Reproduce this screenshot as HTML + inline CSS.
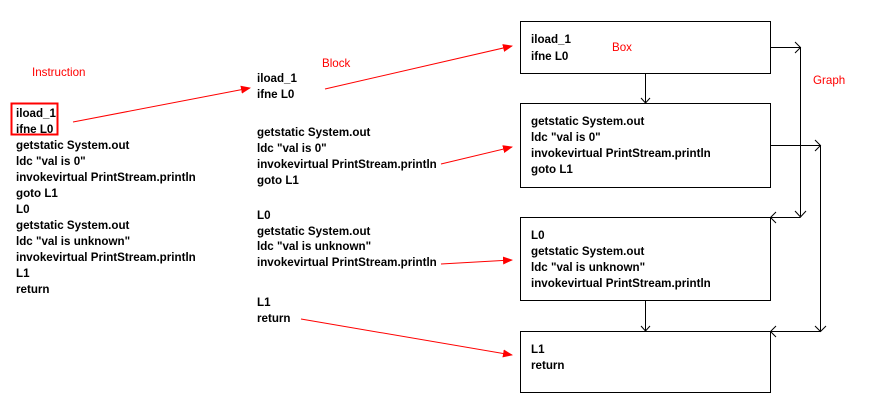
<!DOCTYPE html>
<html><head><meta charset="utf-8"><style>
html,body{margin:0;padding:0;background:#fff;width:885px;height:406px;overflow:hidden}
svg{display:block}
.t{font-family:"Liberation Sans",Arial,sans-serif;font-size:11.6px;font-weight:bold;fill:#000}
.r{font-family:"Liberation Sans",Arial,sans-serif;font-size:11.6px;fill:#ff0000}
</style></head><body>
<svg width="885" height="406" viewBox="0 0 885 406" xmlns="http://www.w3.org/2000/svg">
<defs>
<marker id="ra" markerWidth="10" markerHeight="8" refX="9" refY="4" orient="auto" markerUnits="userSpaceOnUse">
<path d="M0,0 L10,4 L0,8 Z" fill="#ff0000"/></marker>
</defs>
<g class="r">
<text x="32" y="76">Instruction</text>
<text x="322" y="67">Block</text>
<text x="612" y="51">Box</text>
<text x="813" y="84">Graph</text>
</g>
<rect x="11.5" y="103.5" width="46" height="31" fill="none" stroke="#ff0000" stroke-width="2"/>
<g class="t">
<text x="16" y="117">iload_1</text>
<text x="16" y="133">ifne L0</text>
<text x="16" y="149">getstatic System.out</text>
<text x="16" y="165">ldc "val is 0"</text>
<text x="16" y="181">invokevirtual PrintStream.println</text>
<text x="16" y="197">goto L1</text>
<text x="16" y="213">L0</text>
<text x="16" y="229">getstatic System.out</text>
<text x="16" y="245">ldc "val is unknown"</text>
<text x="16" y="261">invokevirtual PrintStream.println</text>
<text x="16" y="277">L1</text>
<text x="16" y="293">return</text>

<text x="257" y="82">iload_1</text>
<text x="257" y="98">ifne L0</text>
<text x="257" y="136">getstatic System.out</text>
<text x="257" y="152">ldc "val is 0"</text>
<text x="257" y="168">invokevirtual PrintStream.println</text>
<text x="257" y="184">goto L1</text>
<text x="257" y="219">L0</text>
<text x="257" y="235">getstatic System.out</text>
<text x="257" y="250">ldc "val is unknown"</text>
<text x="257" y="266">invokevirtual PrintStream.println</text>
<text x="257" y="306">L1</text>
<text x="257" y="322">return</text>

<text x="531" y="43">iload_1</text>
<text x="531" y="60">ifne L0</text>
<text x="531" y="125">getstatic System.out</text>
<text x="531" y="141">ldc "val is 0"</text>
<text x="531" y="157">invokevirtual PrintStream.println</text>
<text x="531" y="173">goto L1</text>
<text x="531" y="239">L0</text>
<text x="531" y="255">getstatic System.out</text>
<text x="531" y="271">ldc "val is unknown"</text>
<text x="531" y="287">invokevirtual PrintStream.println</text>
<text x="531" y="353">L1</text>
<text x="531" y="369">return</text>
</g>
<g fill="none" stroke="#000" stroke-width="1">
<rect x="520.5" y="21.5" width="250" height="52"/>
<rect x="520.5" y="103.5" width="250" height="84"/>
<rect x="520.5" y="217.5" width="250" height="83"/>
<rect x="520.5" y="331.5" width="250" height="61"/>
<path d="M645.5,73 V103 M641,98 L645.5,103 L650,98"/>
<path d="M645.5,300 V331 M641,326 L645.5,331 L650,326"/>
<path d="M770,47.5 H800.5 V216 M795,42 L800.5,47.5 L795,53 M795,211 L800.5,217 L806,211"/>
<path d="M800.5,217.5 H770 M776,212 L770.5,217.5 L776,223"/>
<path d="M770,145.5 H820.5 V331 M815,140 L820.5,145.5 L815,151 M815,326 L820.5,331.5 L826,326"/>
<path d="M820.5,331.5 H770 M776,326 L770.5,331.5 L776,337"/>
</g>
<g stroke="#ff0000" stroke-width="1" fill="none" marker-end="url(#ra)">
<line x1="73" y1="122" x2="250" y2="88"/>
<line x1="325" y1="89" x2="512" y2="46"/>
<line x1="441" y1="164" x2="512" y2="147"/>
<line x1="441" y1="264" x2="512" y2="260"/>
<line x1="301" y1="319" x2="512" y2="355"/>
</g>
</svg>
</body></html>
